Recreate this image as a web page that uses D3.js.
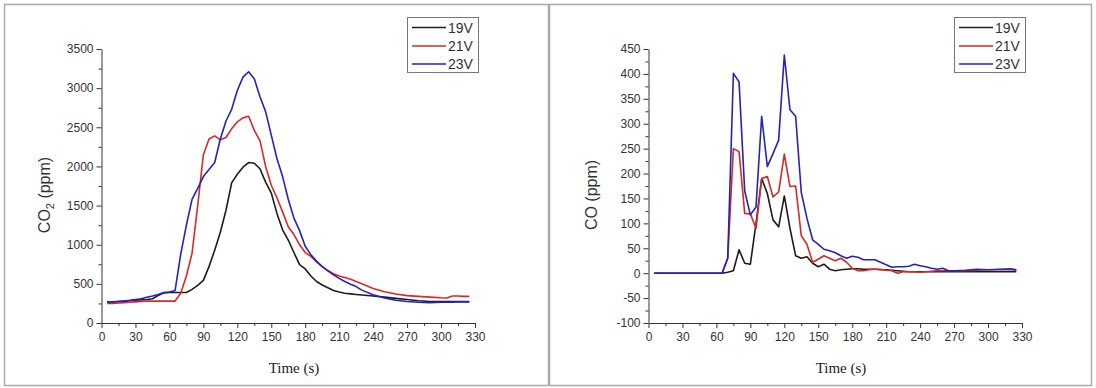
<!DOCTYPE html>
<html>
<head>
<meta charset="utf-8">
<script src="https://cdn.jsdelivr.net/npm/d3@7"></script>
<style>
  body { margin: 0; background: #fff; }
  svg { display: block; }
  .tick text { font-family: "Liberation Sans", Arial, sans-serif; font-size: 12px; fill: #333; }
  .domain, .tick line { stroke: #333; }
</style>
</head>
<body>
<svg id="chart" width="1096" height="388"></svg>
<script>
// series names + colours
var seriesNames = ["19V", "21V", "23V"];
var seriesColors = ["#1c1c1c", "#d42a2a", "#2424b4"];

// CO2 panel (time in s, ppm)
var co2Time = [5,10,15,20,25,30,35,40,45,50,55,60,65,70,75,80,85,90,95,100,105,110,115,120,125,130,135,140,145,150,155,160,165,170,175,180,185,190,195,200,205,210,215,220,225,230,240,250,260,270,280,290,300,305,310,315,320,325];
var co2_19V = [270,270,275,280,285,290,295,300,310,350,385,390,390,390,390,430,480,545,720,930,1160,1440,1790,1900,1990,2050,2040,1970,1800,1660,1400,1190,1060,900,745,690,600,530,485,450,415,395,380,372,365,358,345,330,315,300,285,275,275,275,275,275,275,275];
var co2_21V = [250,250,255,260,265,270,275,280,280,280,280,280,280,380,600,890,1500,2150,2350,2390,2340,2370,2480,2570,2620,2640,2460,2330,2000,1760,1600,1420,1230,1130,1000,900,850,780,720,670,630,600,580,560,530,500,440,400,370,350,340,330,322,320,345,345,340,340];
var co2_23V = [270,270,275,280,290,300,310,330,345,365,390,395,415,880,1250,1580,1720,1870,1960,2050,2350,2580,2730,2970,3140,3210,3120,2890,2700,2400,2100,1870,1580,1340,1180,980,870,790,720,665,615,570,530,495,465,420,360,320,290,275,265,260,265,265,265,268,270,270];

// CO panel (time in s, ppm)
var coTime = [5,65,70,75,80,85,90,95,100,105,110,115,120,125,130,135,140,145,150,155,160,165,170,175,180,185,190,195,200,205,210,215,220,225,230,235,240,245,250,255,260,265,270,280,290,300,310,320,325];
var co_19V = [0,0,2,5,47,20,18,100,190,160,107,93,155,90,35,30,33,20,13,18,8,5,7,8,9,9,8,8,8,7,7,6,5,4,3,3,3,3,3,3,3,3,3,3,3,3,3,3,3];
var co_21V = [0,0,30,250,244,120,119,90,190,194,153,163,239,174,175,75,58,22,28,35,30,25,30,22,10,5,5,7,8,8,6,5,0,3,3,3,2,3,4,5,5,5,5,5,6,7,7,7,6];
var co_23V = [0,0,30,401,384,165,117,133,315,214,240,267,438,328,315,162,110,67,58,48,45,41,35,30,34,32,27,27,27,22,17,12,13,13,14,18,15,13,10,8,10,5,5,6,8,7,8,9,7];

var xTicks = [0,30,60,90,120,150,180,210,240,270,300,330];
var co2Ticks = [0,500,1000,1500,2000,2500,3000,3500];
var coTicks = [-100,-50,0,50,100,150,200,250,300,350,400,450];

var svg = d3.select("#chart");

// outer frames of the two panels
svg.append("rect").attr("x", 4.5).attr("y", 4.5).attr("width", 544).attr("height", 381)
    .attr("fill", "none").attr("stroke", "#aaa").attr("stroke-width", 1.5);
svg.append("rect").attr("x", 549.5).attr("y", 4.5).attr("width", 542).attr("height", 381)
    .attr("fill", "none").attr("stroke", "#aaa").attr("stroke-width", 1.5);

// plain labels, hyphen minus like the original
var plain = function (d) { return String(d); };

function drawPanel(ox, time, series, yDomain, yTicks, yMinorStep, yLabel, useSub) {
    var g = svg.append("g").attr("transform", "translate(" + ox + ",0)");

    var x = d3.scaleLinear().domain([0, 330]).range([101.5, 475]);
    var y = d3.scaleLinear().domain(yDomain).range([323, 49]);

    // minor ticks
    var xMinor = xTicks.slice(0, -1).map(function (d) { return d + 15; });
    g.append("g").attr("transform", "translate(0,323)")
        .call(d3.axisBottom(x).tickValues(xMinor).tickSize(3).tickFormat(""))
        .call(function (a) { a.select(".domain").remove(); });
    var yMinor = yTicks.slice(0, -1).map(function (d) { return d + yMinorStep; });
    g.append("g").attr("transform", "translate(101.5,0)")
        .call(d3.axisLeft(y).tickValues(yMinor).tickSize(3).tickFormat(""))
        .call(function (a) { a.select(".domain").remove(); });

    // major axes
    g.append("g").attr("transform", "translate(0,323)")
        .call(d3.axisBottom(x).tickValues(xTicks).tickFormat(plain).tickSize(5).tickSizeOuter(0).tickPadding(4));
    g.append("g").attr("transform", "translate(101.5,0)")
        .call(d3.axisLeft(y).tickValues(yTicks).tickFormat(plain).tickSize(5).tickSizeOuter(0).tickPadding(3));

    var line = d3.line()
        .x(function (d, i) { return x(time[i]); })
        .y(function (d) { return y(d); });

    series.forEach(function (s, k) {
        g.append("path")
            .attr("d", line(s))
            .attr("fill", "none")
            .attr("stroke", seriesColors[k])
            .attr("stroke-width", 1.6)
            .attr("stroke-linejoin", "round");
    });

    // axis titles
    var yl = g.append("text")
        .attr("transform", "translate(50,195) rotate(-90)")
        .attr("text-anchor", "middle")
        .style("font-family", "Liberation Sans, Arial, sans-serif")
        .style("font-size", "16px")
        .attr("fill", "#333");
    if (useSub) {
        yl.append("tspan").text("CO");
        yl.append("tspan").text("2").attr("dy", 4).style("font-size", "11px");
        yl.append("tspan").text(" (ppm)").attr("dy", -4);
    } else {
        yl.text(yLabel);
    }

    g.append("text")
        .attr("x", 294).attr("y", 373)
        .attr("text-anchor", "middle")
        .style("font-family", "Liberation Serif, Times New Roman, serif")
        .style("font-size", "15px")
        .attr("fill", "#222")
        .text("Time (s)");

    // legend
    var lg = g.append("g");
    lg.append("rect").attr("x", 407.5).attr("y", 17.5).attr("width", 71).attr("height", 55)
        .attr("fill", "#fff").attr("stroke", "#777").attr("stroke-width", 1);
    var rows = [27.5, 46, 64];
    seriesNames.forEach(function (n, k) {
        lg.append("line").attr("x1", 412).attr("x2", 446).attr("y1", rows[k]).attr("y2", rows[k])
            .attr("stroke", seriesColors[k]).attr("stroke-width", 1.5);
        lg.append("text").attr("x", 448).attr("y", rows[k] + 5)
            .style("font-family", "Liberation Sans, Arial, sans-serif")
            .style("font-size", "14px")
            .attr("fill", "#333")
            .text(n);
    });
}

drawPanel(0, co2Time, [co2_19V, co2_21V, co2_23V], [0, 3500], co2Ticks, 250, "CO2 (ppm)", true);
drawPanel(547, coTime, [co_19V, co_21V, co_23V], [-100, 450], coTicks, 25, "CO (ppm)", false);
</script>
</body>
</html>
